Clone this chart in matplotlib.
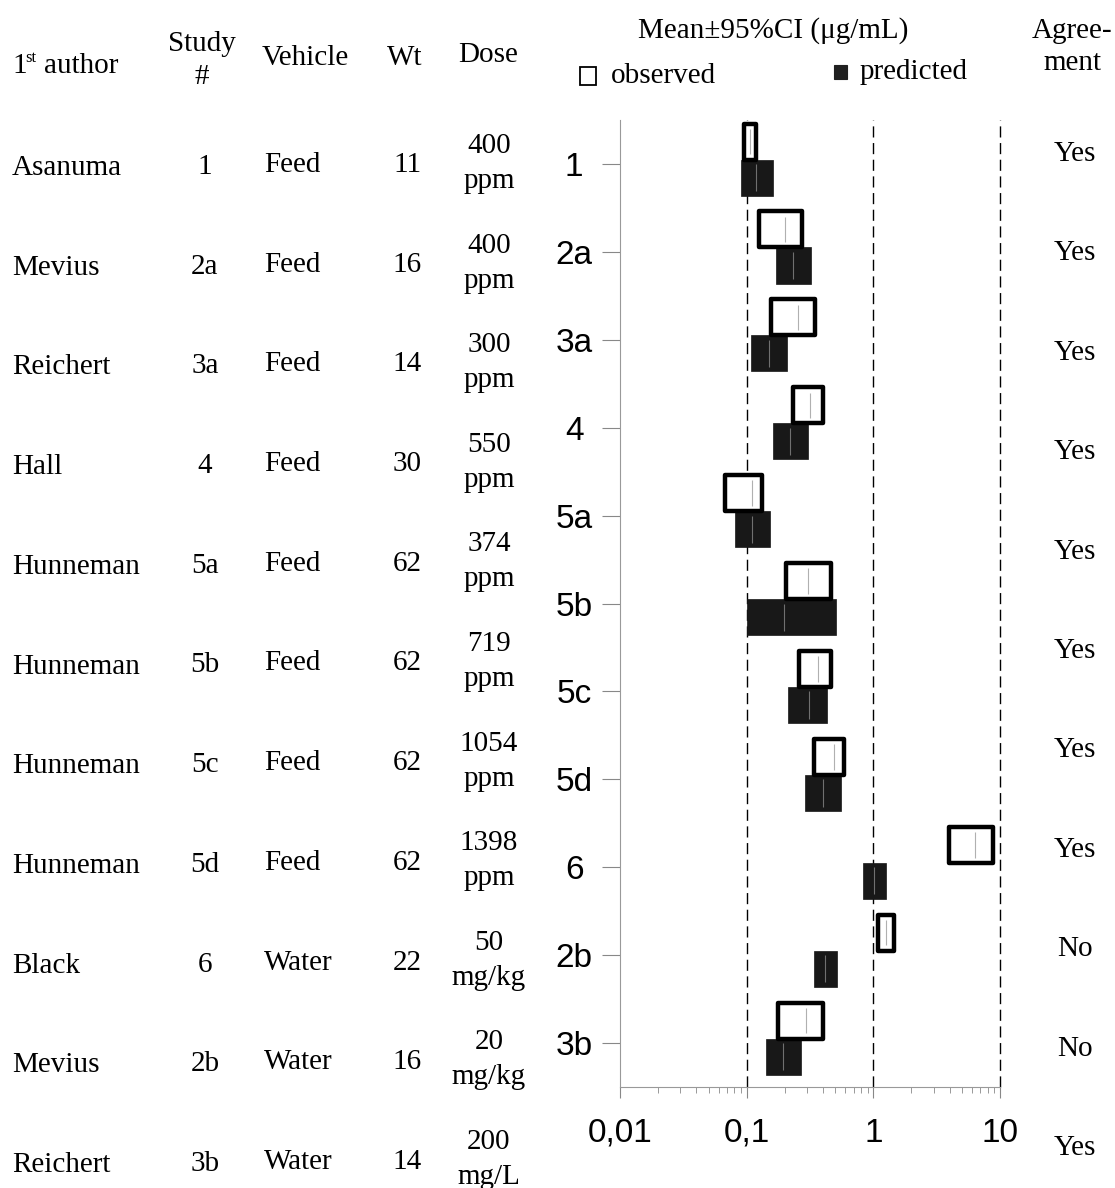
import matplotlib
matplotlib.use("Agg")
import matplotlib.pyplot as plt
from matplotlib.patches import Rectangle
import numpy as np

# table columns
authors = ["Asanuma", "Mevius", "Reichert", "Hall", "Hunneman", "Hunneman",
           "Hunneman", "Hunneman", "Black", "Mevius", "Reichert"]
study_ids = ["1", "2a", "3a", "4", "5a", "5b", "5c", "5d", "6", "2b", "3b"]
vehicles = ["Feed"] * 8 + ["Water"] * 3
weights = ["11", "16", "14", "30", "62", "62", "62", "62", "22", "16", "14"]
dose_amt = ["400", "400", "300", "550", "374", "719", "1054", "1398", "50", "20", "200"]
dose_unit = ["ppm"] * 8 + ["mg/kg", "mg/kg", "mg/L"]
agreement = ["Yes"] * 8 + ["No", "No", "Yes"]

# plasma concentrations (ug/mL), mean and 95% CI
plot_rows = ["1", "2a", "3a", "4", "5a", "5b", "5c", "5d", "6", "2b", "3b"]
obs_lo = [0.095, 0.125, 0.155, 0.233, 0.068, 0.204, 0.260, 0.342, 3.99, 1.09, 0.178]
obs_hi = [0.119, 0.271, 0.346, 0.399, 0.133, 0.464, 0.464, 0.585, 8.79, 1.46, 0.399]
obs_mean = [0.107, 0.200, 0.253, 0.316, 0.111, 0.307, 0.368, 0.487, 6.30, 1.25, 0.294]
pred_lo = [0.090, 0.171, 0.109, 0.160, 0.081, 0.101, 0.213, 0.288, 0.828, 0.338, 0.141]
pred_hi = [0.160, 0.322, 0.208, 0.303, 0.152, 0.510, 0.429, 0.557, 1.25, 0.518, 0.268]
pred_mean = [0.118, 0.232, 0.150, 0.221, 0.111, 0.198, 0.312, 0.399, 1.01, 0.418, 0.193]

W, H = 1115, 1188
fig = plt.figure(figsize=(W / 100, H / 100), dpi=100)

SERIF = "Liberation Serif"
SANS = "Liberation Sans"
FS = 21


def px(x, y):
    # pixel position (from top-left) -> figure fraction
    return x / W, 1 - y / H


def label(x, y, s, ha="center", va="center", size=FS, family=SERIF):
    fig.text(*px(x, y), s, ha=ha, va=va, fontsize=size, family=family)


# ---- header ----
label(12, 73, "1", ha="left", va="baseline")
label(25, 62, "st", ha="left", va="baseline", size=12)
label(44, 73, "author", ha="left", va="baseline")
label(202, 44, "Study")
label(202, 77, "#")
label(305, 58, "Vehicle")
label(405, 58, "Wt")
label(488, 55, "Dose")
label(773, 31, "Mean\u00b195%CI (\u03bcg/mL)")
label(1072, 31, "Agree-")
label(1072, 63, "ment")

# legend squares
fig.patches.append(Rectangle(px(580, 85), 16 / W, 18 / H, transform=fig.transFigure,
                             facecolor="white", edgecolor="black", lw=1.3))
fig.patches.append(Rectangle(px(834, 79), 13 / W, 14 / H, transform=fig.transFigure,
                             facecolor="#202020", edgecolor="#202020", lw=0.8))
label(611, 76, "observed", ha="left")
label(860, 72, "predicted", ha="left")

# ---- table body ----
for i in range(len(authors)):
    yr = 168 + 99.7 * i
    label(12, yr, authors[i], ha="left")
    label(205, yr - 1, study_ids[i])
    label(264, yr - 3, vehicles[i], ha="left")
    label(407, yr - 3, weights[i])
    yd = 163 + 99.6 * i
    label(489, yd - 17, dose_amt[i])
    label(489, yd + 18, dose_unit[i])
    label(1075, 154 + 99.4 * i, agreement[i])

# ---- forest plot ----
ax = fig.add_axes([620 / W, 1 - 1087 / H, 380 / W, (1087 - 120) / H])
ax.set_xscale("log")
ax.set_xlim(0.01, 10)
ax.set_ylim(len(plot_rows) - 0.5, -0.5)

ypos = np.arange(len(plot_rows))
obs_lo_a, obs_hi_a = np.array(obs_lo), np.array(obs_hi)
pred_lo_a, pred_hi_a = np.array(pred_lo), np.array(pred_hi)

for xv in [0.1, 1, 10]:
    ax.axvline(xv, color="black", lw=1.0, dashes=(8, 4), zorder=1, clip_on=False)

ax.barh(ypos + 0.155, pred_hi_a - pred_lo_a, left=pred_lo_a, height=0.41,
        color="#181818", edgecolor="#181818", lw=0.5, zorder=2)
ax.barh(ypos - 0.255, obs_hi_a - obs_lo_a, left=obs_lo_a, height=0.41,
        facecolor="white", edgecolor="black", lw=3.2, joinstyle="round", zorder=3)

ax.vlines(obs_mean, ypos - 0.40, ypos - 0.11, color="#b0b0b0", lw=0.8, zorder=4)
ax.vlines(pred_mean, ypos + 0.0, ypos + 0.31, color="#707070", lw=0.8, zorder=4)

ax.set_yticks(ypos)
ax.set_yticklabels(plot_rows, family=SANS, fontsize=24, ha="center")
ax.set_xticks([0.01, 0.1, 1, 10])
ax.set_xticklabels(["0,01", "0,1", "1", "10"], family=SANS, fontsize=24)

ax.tick_params(axis="y", length=13, width=0.8, color="#888888", pad=20)
ax.tick_params(axis="x", which="major", length=8, width=0.8, color="#888888", pad=14)
ax.tick_params(axis="x", which="minor", length=4, width=0.7, color="#999999")

for side in ["top", "right"]:
    ax.spines[side].set_visible(False)
for side in ["left", "bottom"]:
    ax.spines[side].set_color("#999999")
    ax.spines[side].set_linewidth(0.8)

fig.savefig("out.png", dpi=100)
